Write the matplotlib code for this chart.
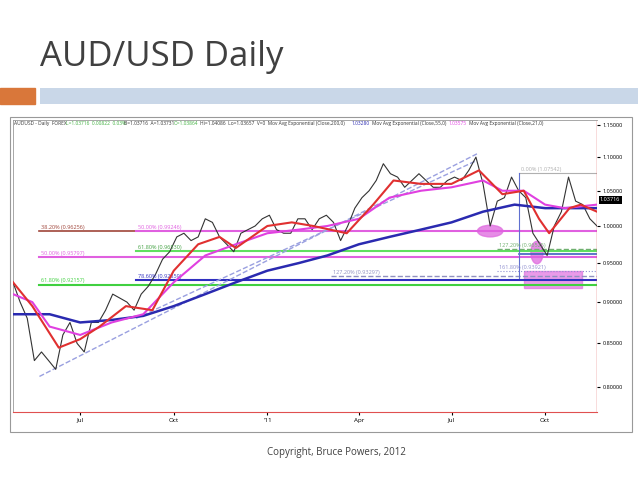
import matplotlib
matplotlib.use("Agg")
import matplotlib.pyplot as plt
import matplotlib.dates as mdates
from matplotlib.patches import Rectangle, Ellipse
import numpy as np
import datetime as dt

plt.rcParams['font.family'] = ['Open Sans', 'DejaVu Sans']

# weekly closes from 2010-04-26
price_start = "2010-04-26"
closes = [0.925, 0.90, 0.88, 0.83, 0.84, 0.83, 0.82, 0.86, 0.875, 0.85, 0.84, 0.875, 0.875, 0.89,
          0.91, 0.905, 0.90, 0.89, 0.91, 0.92, 0.935, 0.955, 0.965, 0.985, 0.99, 0.98, 0.985, 1.01,
          1.005, 0.985, 0.975, 0.965, 0.99, 0.995, 1.00, 1.01, 1.015, 0.995, 0.99, 0.99, 1.01, 1.01,
          0.995, 1.01, 1.015, 1.005, 0.98, 1.00, 1.025, 1.04, 1.05, 1.065, 1.09, 1.075, 1.07, 1.055,
          1.065, 1.075, 1.065, 1.055, 1.055, 1.065, 1.07, 1.065, 1.08, 1.10, 1.06, 1.00, 1.035, 1.04,
          1.07, 1.05, 1.04, 0.99, 0.975, 0.96, 1.00, 1.02, 1.07, 1.035, 1.03, 1.01, 1.00]

ema200_dates = ["2010-04-26", "2010-06-01", "2010-07-01", "2010-08-01", "2010-09-01", "2010-10-01",
                "2010-11-01", "2010-12-01", "2011-01-01", "2011-02-01", "2011-03-01", "2011-04-01",
                "2011-05-01", "2011-06-01", "2011-07-01", "2011-08-01", "2011-09-01", "2011-10-01",
                "2011-11-01", "2011-11-21"]
ema200 = [0.885, 0.885, 0.875, 0.878, 0.883, 0.895, 0.91, 0.925, 0.94, 0.95, 0.96, 0.975,
          0.985, 0.995, 1.005, 1.02, 1.03, 1.025, 1.025, 1.025]

ema55_dates = ["2010-04-26", "2010-05-15", "2010-06-01", "2010-07-01", "2010-08-01", "2010-09-01",
               "2010-10-01", "2010-11-01", "2010-12-01", "2011-01-01", "2011-02-01", "2011-03-01",
               "2011-04-01", "2011-05-01", "2011-06-01", "2011-07-01", "2011-08-01", "2011-08-20",
               "2011-09-10", "2011-10-01", "2011-10-20", "2011-11-21"]
ema55 = [0.91, 0.90, 0.87, 0.86, 0.875, 0.885, 0.925, 0.96, 0.975, 0.99, 0.995, 1.0, 1.01,
         1.04, 1.05, 1.055, 1.065, 1.05, 1.05, 1.03, 1.025, 1.03]

ema21_dates = ["2010-04-26", "2010-05-15", "2010-06-10", "2010-07-01", "2010-07-20", "2010-08-15",
               "2010-09-10", "2010-10-01", "2010-10-25", "2010-11-15", "2010-12-01", "2011-01-01",
               "2011-01-25", "2011-02-15", "2011-03-20", "2011-04-15", "2011-05-05", "2011-06-01",
               "2011-07-01", "2011-07-28", "2011-08-20", "2011-09-10", "2011-09-25", "2011-10-05",
               "2011-10-25", "2011-11-05", "2011-11-21"]
ema21 = [0.925, 0.895, 0.845, 0.855, 0.87, 0.895, 0.89, 0.94, 0.975, 0.985, 0.97, 1.0, 1.005,
         1.0, 0.99, 1.03, 1.065, 1.06, 1.06, 1.08, 1.045, 1.05, 1.01, 0.99, 1.025, 1.03, 1.02]

# fib lines: (label, level_drawn, start, end, color, lw, style)
fibs = [
    ("38.20% (0.96256)", 0.993, "2010-05-22", "2010-08-25", "#a0453a", 1.2, "-"),
    ("50.00% (0.99246)", 0.993, "2010-08-25", "2011-11-21", "#e060e0", 1.5, "-"),
    ("50.00% (0.95797)", 0.958, "2010-05-22", "2011-11-21", "#e060e0", 1.5, "-"),
    ("61.80% (0.96530)", 0.966, "2010-08-25", "2011-11-21", "#60e060", 1.5, "-"),
    ("61.80% (0.92157)", 0.922, "2010-05-22", "2011-11-21", "#40d040", 1.5, "-"),
    ("78.60% (0.92859)", 0.928, "2010-08-25", "2011-11-21", "#3030c0", 1.5, "-"),
    ("127.20% (0.93297)", 0.933, "2011-03-05", "2011-11-21", "#9090c0", 1.0, "--"),
    ("127.20% (0.96525)", 0.968, "2011-08-15", "2011-11-21", "#70b070", 1.0, "--"),
    ("", 0.962, "2011-09-05", "2011-11-21", "#4060c0", 1.2, "-"),
    ("161.80% (0.93921)", 0.939, "2011-08-15", "2011-11-21", "#9090d0", 0.8, ":"),
    ("0.00% (1.07542)", 1.0754, "2011-09-05", "2011-11-21", "#b0b0b0", 0.8, "-"),
]

yticks = [0.80, 0.85, 0.90, 0.95, 1.00, 1.05, 1.10, 1.15]

D = lambda s: mdates.date2num(dt.datetime.strptime(s, "%Y-%m-%d"))

fig = plt.figure(figsize=(6.38, 4.79), dpi=100)
# slide decorations
fig.text(40/638, 1-57/479, "AUD/USD Daily", fontsize=25, color="#404040", va="center", ha="left")
fig.patches.append(Rectangle((0, 1-104/479), 35/638, 16/479, transform=fig.transFigure, color="#d9773a"))
fig.patches.append(Rectangle((40/638, 1-104/479), 598/638, 16/479, transform=fig.transFigure,
                             facecolor="#c9d7e8", edgecolor="none", hatch="////"))
fig.patches.append(Rectangle((10/638, 1-432/479), 622/638, 315/479, transform=fig.transFigure,
                             facecolor="none", edgecolor="#999999", lw=0.8))
fig.text(336/638, 1-452/479, "Copyright, Bruce Powers, 2012", fontsize=7, color="#404040", ha="center", va="center")

ax = fig.add_axes([13/638, 1-412/479, 584/638, 292/479])
ax.set_yscale("log")
ax.set_ylim(0.773, 1.158)
ax.set_xlim(D("2010-04-26"), D("2011-11-21"))

start = D(price_start)
pd_ = start + 7*np.arange(len(closes))
ax.plot(pd_, closes, color="#333333", lw=0.8, zorder=3)

ax.plot([D(s) for s in ema200_dates], ema200, color="#2a2ab0", lw=1.8, zorder=4)
ax.plot([D(s) for s in ema55_dates], ema55, color="#e040e0", lw=1.5, zorder=4)
ax.plot([D(s) for s in ema21_dates], ema21, color="#e03030", lw=1.5, zorder=5)

for lab, lvl, s, e, c, lw, ls in fibs:
    ax.plot([D(s), D(e)], [lvl, lvl], color=c, lw=lw, ls=ls, zorder=2)
    if lab:
        ax.text(D(s) + 2, lvl * 1.002, lab, fontsize=4, color=c if c != "#60e060" else "#40a040", va="bottom")

# trend lines
ax.plot([D("2010-05-22"), D("2011-07-26")], [0.812, 1.105], color="#9aa0e0", lw=1, ls="--", zorder=2)
ax.plot([D("2010-08-25"), D("2011-07-26")], [0.880, 1.095], color="#9aa0e0", lw=1, ls="--", zorder=2)
ax.plot([D("2011-09-05"), D("2011-09-05")], [0.930, 1.0754], color="#6070d0", lw=0.8, zorder=2)

# highlights
ax.add_patch(Ellipse((D("2011-08-08"), 0.993), 25, 0.016, color="#e070e0", alpha=0.8, zorder=1))
ax.add_patch(Ellipse((D("2011-09-23"), 0.964), 12, 0.03, color="#e070e0", alpha=0.8, zorder=1))
ax.add_patch(Rectangle((D("2011-09-10"), 0.918), 57, 0.022, color="#e070e0", alpha=0.7, zorder=1))

ax.axvline(D("2011-11-21"), color="#e05050", lw=1)
ax.set_yticks(yticks)
ax.set_yticklabels([f"{v:.5f}" for v in yticks], fontsize=4)
ax.yaxis.set_minor_locator(plt.NullLocator())
ax.yaxis.tick_right()
ax.tick_params(axis="y", length=2, pad=2)
ax.xaxis.set_major_locator(mdates.MonthLocator(bymonth=[1, 4, 7, 10]))
ax.xaxis.set_major_formatter(plt.FuncFormatter(
    lambda x, p: "'11" if mdates.num2date(x).month == 1 else mdates.num2date(x).strftime("%b")))
ax.tick_params(axis="x", labelsize=4.5, length=2, pad=2)
for sp in ["top", "left"]:
    ax.spines[sp].set_color("#999999")
    ax.spines[sp].set_linewidth(0.6)
ax.spines["right"].set_visible(False)
ax.spines["bottom"].set_color("#e05050")
ax.text(0.002, 0.995, "AUDUSD - Daily  FOREX  ", transform=ax.transAxes, fontsize=3.5, va="top", color="#333")
ax.text(0.09, 0.995, "L=1.03716  0.00822  0.03%", transform=ax.transAxes, fontsize=3.5, va="top", color="#40b040")
ax.text(0.19, 0.995, "B=1.03716  A=1.03731", transform=ax.transAxes, fontsize=3.5, va="top", color="#333")
ax.text(0.275, 0.995, "O=1.03864", transform=ax.transAxes, fontsize=3.5, va="top", color="#40b040")
ax.text(0.32, 0.995, "Hi=1.04086  Lo=1.03657  V=0  Mov Avg Exponential (Close,200,0)", transform=ax.transAxes, fontsize=3.5, va="top", color="#333")
ax.text(0.58, 0.995, "1.03280", transform=ax.transAxes, fontsize=3.5, va="top", color="#2a2ab0")
ax.text(0.615, 0.995, "Mov Avg Exponential (Close,55,0)", transform=ax.transAxes, fontsize=3.5, va="top", color="#333")
ax.text(0.745, 0.995, "1.03575", transform=ax.transAxes, fontsize=3.5, va="top", color="#e040e0")
ax.text(0.78, 0.995, "Mov Avg Exponential (Close,21,0)", transform=ax.transAxes, fontsize=3.5, va="top", color="#333")
ax.text(1.005, 1.03716, "1.03716", transform=ax.get_yaxis_transform(), fontsize=4, va="center",
        color="white", bbox=dict(facecolor="black", pad=1, edgecolor="none"))

fig.savefig("out.png", dpi=100)
